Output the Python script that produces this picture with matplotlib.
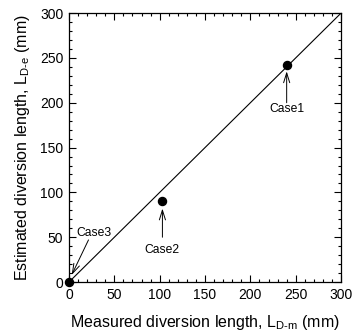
import matplotlib
matplotlib.use("Agg")
import matplotlib.pyplot as plt
from matplotlib.ticker import MultipleLocator

plt.rcParams['font.family'] = ['Liberation Sans', 'DejaVu Sans']
plt.rcParams['mathtext.fontset'] = 'custom'
plt.rcParams['mathtext.rm'] = 'Liberation Sans'
plt.rcParams['mathtext.it'] = 'Liberation Sans:italic'

measured = [240, 103, 0]
estimated = [242, 90, 0]
cases = ['Case1', 'Case2', 'Case3']
line_x = [0, 300]
line_y = [0, 300]
xticks = [0, 50, 100, 150, 200, 250, 300]
yticks = [0, 50, 100, 150, 200, 250, 300]

fig = plt.figure(figsize=(3.52, 3.35), dpi=100)
ax = fig.add_axes([0.196, 0.158, 0.773, 0.803])

ax.plot(line_x, line_y, color='black', lw=0.8, zorder=2)
ax.plot(measured, estimated, 'o', color='black', ms=5.8, zorder=3, clip_on=False)

text_pos = [(240, 193), (103, 36), (27, 55)]
arrow_tail = [(240, 200), (103, 50), (21.5, 47)]
arrow_tip = [(240, 235), (103, 82), (3, 8)]
for name, tp in zip(cases, text_pos):
    ax.text(tp[0], tp[1], name, fontsize=8.7, ha='center', va='center')
for tail, tip in zip(arrow_tail, arrow_tip):
    ax.annotate('', xy=tip, xytext=tail,
                arrowprops=dict(arrowstyle='->,head_length=0.7,head_width=0.22',
                                color='black', lw=0.7,
                                shrinkA=0, shrinkB=0, mutation_scale=10))

ax.set_xlim(0, 300)
ax.set_ylim(0, 300)
ax.set_xticks(xticks)
ax.set_yticks(yticks)
ax.xaxis.set_minor_locator(MultipleLocator(10))
ax.yaxis.set_minor_locator(MultipleLocator(10))
ax.tick_params(which='both', direction='in', top=True, right=True, width=0.8)
ax.tick_params(which='major', length=5, labelsize=10, pad=4)
ax.tick_params(which='minor', length=2.5)
for s in ax.spines.values():
    s.set_linewidth(0.9)

ax.set_xlabel(r'Measured diversion length, L$_{\mathrm{D\text{-}m}}$ (mm)', fontsize=11.5, labelpad=8)
ax.set_ylabel(r'Estimated diversion length, L$_{\mathrm{D\text{-}e}}$ (mm)', fontsize=11.5, labelpad=6)

fig.savefig('out.png', dpi=100)
